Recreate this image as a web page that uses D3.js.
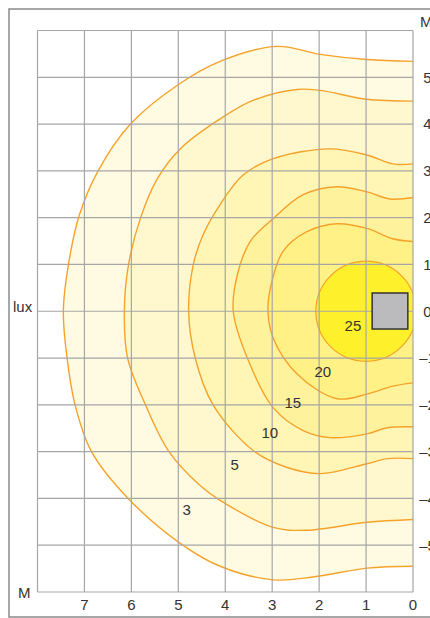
<!DOCTYPE html>
<html>
<head>
<meta charset="utf-8">
<script src="https://cdn.jsdelivr.net/npm/d3@7"></script>
<style>
  html, body { margin: 0; padding: 0; background: #fff; }
  svg { display: block; font-family: "Liberation Sans", Arial, sans-serif; }
</style>
</head>
<body>
<div id="chart"></div>
<script>
// axis ticks (metres)
const xTicks = [7, 6, 5, 4, 3, 2, 1, 0];
const yTicks = [5, 4, 3, 2, 1, 0, -1, -2, -3, -4, -5];

// isolux lines, [distance, offset] in metres
const iso3 = [[0,5.34],[0.98,5.38],[1.98,5.49],[2.89,5.66],[4.11,5.34],[5.02,4.83],[6.02,4.0],[6.72,2.98],
  [7.11,2.05],[7.34,1.0],[7.45,0],[7.37,-1.0],[7.2,-2.0],[6.85,-3.0],[6.07,-4.0],[4.96,-4.96],[4.11,-5.45],
  [2.98,-5.74],[2.13,-5.68],[0.98,-5.49],[0,-5.45]];
const iso5 = [[0,4.49],[0.98,4.53],[1.98,4.72],[2.47,4.74],[3.4,4.51],[4.11,4.11],[4.96,3.47],[5.45,2.83],
  [5.81,1.98],[6.06,1.0],[6.15,0],[6.08,-1.0],[5.7,-2.0],[5.2,-3.0],[4.53,-3.73],[4.11,-4.04],[2.98,-4.62],
  [2.26,-4.68],[0.98,-4.51],[0,-4.45]];
const iso10 = [[0,3.15],[0.43,3.15],[0.98,3.34],[1.77,3.47],[2.98,3.26],[3.62,2.91],[4.11,2.28],[4.47,1.64],
  [4.68,1.0],[4.78,0],[4.64,-1.0],[4.26,-2.0],[3.4,-2.98],[2.68,-3.34],[1.98,-3.47],[0.98,-3.26],
  [0.55,-3.15],[0,-3.15]];
const iso15 = [[0,2.43],[0.49,2.4],[0.98,2.55],[1.62,2.66],[2.34,2.49],[2.98,1.98],[3.47,1.49],[3.74,0.79],
  [3.83,0],[3.53,-1.0],[2.98,-2.06],[2.34,-2.55],[1.77,-2.7],[0.98,-2.62],[0.55,-2.49],[0,-2.47]];
const iso20 = [[0,1.49],[0.43,1.55],[0.98,1.77],[1.62,1.87],[2.26,1.7],[2.77,1.28],[3.04,0.49],[3.09,0],
  [2.98,-0.57],[2.47,-1.34],[1.62,-1.87],[0.98,-1.77],[0.43,-1.6],[0,-1.53]];
// 25 lux ring: centre and radius
const iso25 = { x: 1.0, y: 0, r: 1.07 };

// value labels and where they sit
const labelVals = [25, 20, 15, 10, 5, 3];
const labelXY = [[1.28,-0.31],[1.92,-1.30],[2.56,-1.96],[3.05,-2.59],[3.80,-3.27],[4.82,-4.23]];

// luminaire footprint [x0, x1, y0, y1]
const lamp = [0.11, 0.87, -0.38, 0.39];

const COLOR_LINE = '#f6a22a';
const COLOR_GRID = '#a6a6a6';
const COLOR_TEXT = '#333';
const fills = ['#fffbe2', '#fff8cf', '#fff5b5', '#fff29c', '#fff186'];
const FILL_CORE = '#fff02c';

const W = 430, H = 618;
const svg = d3.select('#chart').append('svg').attr('width', W).attr('height', H);

const x = d3.scaleLinear().domain([8, 0]).range([37.5, 413]);
const y = d3.scaleLinear().domain([6, -6]).range([30.5, 592]);

// outer frame
svg.append('path')
  .attr('d', `M${W},9H9V617H${W}`)
  .attr('fill', 'none').attr('stroke', '#8a8a8a').attr('stroke-width', 1.5);

svg.append('clipPath').attr('id', 'plot')
  .append('rect').attr('x', x(8)).attr('y', y(6)).attr('width', x(0) - x(8)).attr('height', y(-6) - y(6));

const plot = svg.append('g').attr('clip-path', 'url(#plot)');
const line = d3.line().x(d => x(d[0])).y(d => y(d[1])).curve(d3.curveCatmullRom.alpha(0.5));
const isos = [iso3, iso5, iso10, iso15, iso20];

// filled bands, outermost first
isos.forEach((pts, i) => {
  plot.append('path').attr('d', line(pts) + 'Z').attr('fill', fills[i]);
});
plot.append('ellipse')
  .attr('cx', x(iso25.x)).attr('cy', y(iso25.y))
  .attr('rx', x(0) - x(iso25.r)).attr('ry', y(-iso25.r) - y(0))
  .attr('fill', FILL_CORE);

// grid
const grid = svg.append('g').attr('stroke', COLOR_GRID).attr('stroke-width', 1.2);
d3.range(0, 9).forEach(v => {
  grid.append('line').attr('x1', x(v)).attr('x2', x(v)).attr('y1', y(6)).attr('y2', y(-6));
});
d3.range(-6, 7).forEach(v => {
  grid.append('line').attr('x1', x(8)).attr('x2', x(0)).attr('y1', y(v)).attr('y2', y(v));
});

// isolux lines on top
isos.forEach(pts => {
  plot.append('path').attr('d', line(pts))
    .attr('fill', 'none').attr('stroke', COLOR_LINE).attr('stroke-width', 1.4);
});
plot.append('ellipse')
  .attr('cx', x(iso25.x)).attr('cy', y(iso25.y))
  .attr('rx', x(0) - x(iso25.r)).attr('ry', y(-iso25.r) - y(0))
  .attr('fill', 'none').attr('stroke', COLOR_LINE).attr('stroke-width', 1.2);

// luminaire
svg.append('rect')
  .attr('x', x(lamp[1])).attr('y', y(lamp[3]))
  .attr('width', x(lamp[0]) - x(lamp[1])).attr('height', y(lamp[2]) - y(lamp[3]))
  .attr('fill', '#bbbbbe').attr('stroke', '#333').attr('stroke-width', 1.5);

// value labels
svg.append('g').selectAll('text').data(labelVals).join('text')
  .attr('x', (d, i) => x(labelXY[i][0])).attr('y', (d, i) => y(labelXY[i][1]))
  .attr('dy', '0.36em').attr('text-anchor', 'middle')
  .attr('font-size', 15).attr('fill', COLOR_TEXT)
  .text(d => d);

// axes as plain text
const txt = svg.append('g').attr('font-size', 15).attr('fill', COLOR_TEXT);
txt.selectAll('.xt').data(xTicks).join('text')
  .attr('x', d => x(d)).attr('y', 610).attr('text-anchor', 'middle')
  .text(d => d);
txt.selectAll('.yt').data(yTicks).join('text')
  .attr('x', 427.5).attr('y', d => y(d)).attr('dy', '0.36em').attr('text-anchor', 'middle')
  .text(d => d < 0 ? '\u2013' + Math.abs(d) : d);
txt.append('text').attr('x', 420).attr('y', 27).text('M');
txt.append('text').attr('x', 18).attr('y', y(-6) + 5.5).text('M');
txt.append('text').attr('x', 13).attr('y', y(0) + 1).text('lux');
</script>
</body>
</html>
